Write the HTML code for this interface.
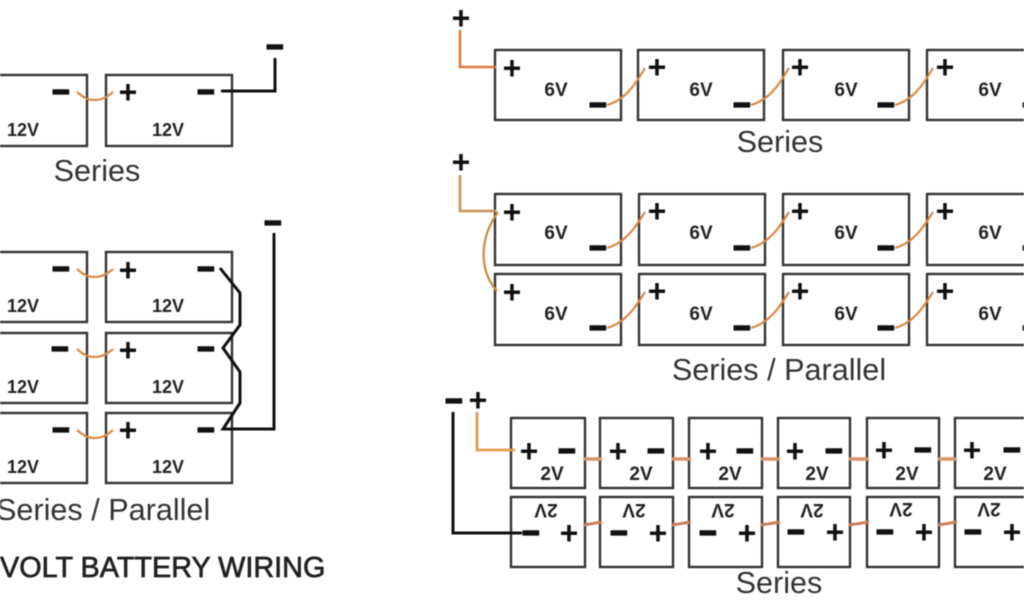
<!DOCTYPE html>
<html><head><meta charset="utf-8"><style>
html,body{margin:0;padding:0;background:#fff;width:1024px;height:600px;overflow:hidden}
svg{display:block;filter:blur(.5px)}
text{font-family:"Liberation Sans",Arial,sans-serif}
.p{font-size:32px;font-weight:bold;text-anchor:middle;fill:#111}
.m{font-size:29px;font-weight:bold;text-anchor:middle;fill:#111;stroke:#111;stroke-width:2.2;transform:translateY(-1.4px)}
.v{font-size:18px;font-weight:bold;text-anchor:middle;fill:#222}
.s{font-size:19px;font-weight:bold;text-anchor:middle;fill:#222}
.t{font-size:30.6px;fill:#333;text-anchor:middle}
.b{fill:none;stroke:#333;stroke-width:2.4}
.o{fill:none;stroke:#d98a45;stroke-width:2.2}
.k{fill:none;stroke:#111;stroke-width:3}
</style></head><body>
<svg width="1024" height="600" viewBox="0 0 1024 600" xmlns="http://www.w3.org/2000/svg">
<rect width="1024" height="600" fill="#fff"/>
<g class="b">
<rect x="-10" y="75" width="97" height="71"/><rect x="106" y="75" width="126" height="71"/>
<rect x="-10" y="252" width="97" height="70"/><rect x="106" y="252" width="126" height="70"/>
<rect x="-10" y="333" width="97" height="70"/><rect x="106" y="333" width="126" height="70"/>
<rect x="-10" y="413" width="97" height="70"/><rect x="106" y="413" width="126" height="70"/>
<rect x="495" y="50" width="126" height="70"/><rect x="638" y="50" width="126" height="70"/><rect x="783" y="50" width="126" height="70"/><rect x="927" y="50" width="126" height="70"/>
<rect x="495" y="194" width="126" height="71"/><rect x="639" y="194" width="126" height="71"/><rect x="783" y="194" width="126" height="71"/><rect x="927" y="194" width="126" height="71"/>
<rect x="495" y="274" width="126" height="71"/><rect x="639" y="274" width="126" height="71"/><rect x="783" y="274" width="126" height="71"/><rect x="927" y="274" width="126" height="71"/>
<rect x="511" y="418" width="74" height="70"/><rect x="600" y="418" width="73" height="70"/><rect x="689" y="418" width="73" height="70"/><rect x="778" y="418" width="72" height="70"/><rect x="867" y="418" width="72" height="70"/><rect x="955" y="418" width="74" height="70"/>
<rect x="511" y="497" width="74" height="70"/><rect x="600" y="497" width="73" height="70"/><rect x="689" y="497" width="73" height="70"/><rect x="778" y="497" width="72" height="70"/><rect x="867" y="497" width="72" height="70"/><rect x="955" y="497" width="74" height="70"/>
</g>
<g class="o">
<path d="M77 92C84 98 88 100 94 100C101 100 106 98 113 92"/>
<path d="M77 269C84 275 88 277 94 277C101 277 106 275 113 269"/>
<path d="M77 349C84 355 88 357 94 357C101 357 106 355 113 349"/>
<path d="M77 430C84 436 88 438 94 438C101 438 106 436 113 430"/>
<path d="M460 30V67H496" stroke-width="2.6" stroke="#dd7a3a"/>
<path d="M460 175V211H496" stroke-width="2.8" stroke="#c99a60"/>
<path d="M498 212C478 240 480 272 497 291" stroke="#c98a40"/>
<path d="M607 105C625 100 635 85 645 68"/><path d="M751 105C769 100 779 85 789 68"/><path d="M895 105C913 100 923 85 933 68"/>
<path d="M607 248C625 243 635 228 645 212"/><path d="M751 248C769 243 779 228 789 212"/><path d="M895 248C913 243 923 228 933 212"/>
<path d="M607 328C625 323 635 308 645 292"/><path d="M751 328C769 323 779 308 789 292"/><path d="M895 328C913 323 923 308 933 292"/>
<path d="M477 412V450H515" stroke-width="2.8" stroke="#e59a50"/>
<path d="M584 459H602M672 459H691M761 459H780M849 459H869M938 459H957M1027 459H1030" stroke-width="3.5" stroke="#d9956a"/>
<path d="M584 525L602 522M672 525L691 522M761 525L780 522M849 525L869 522M938 525L957 522" stroke-width="3" stroke="#c9805a"/>
</g>
<g class="k">
<path d="M221 91H275V58" />
<path d="M220 268L240 293V325L223 348L240 372V403L223 429H274V233"/>
<path d="M453 412V533H522"/>
</g>
<text class="m" x="61" y="103">−</text><text class="p" x="128" y="103">+</text><text class="m" x="206" y="103">−</text><text class="m" x="275" y="58">−</text>
<text class="v" x="23" y="136">12V</text><text class="v" x="168" y="136">12V</text>
<text class="t" x="97" y="181">Series</text>
<text class="m" x="61" y="280">−</text><text class="p" x="128" y="281">+</text><text class="m" x="206" y="280">−</text><text class="m" x="273" y="234">−</text>
<text class="v" x="23" y="312">12V</text><text class="v" x="168" y="312">12V</text>
<text class="m" x="60" y="360">−</text><text class="p" x="128" y="361">+</text><text class="m" x="206" y="360">−</text>
<text class="v" x="23" y="393">12V</text><text class="v" x="168" y="393">12V</text>
<text class="m" x="61" y="441">−</text><text class="p" x="128" y="441">+</text><text class="m" x="206" y="441">−</text>
<text class="v" x="23" y="473">12V</text><text class="v" x="168" y="473">12V</text>
<text class="t" x="-4" y="520" style="text-anchor:start">Series / Parallel</text>
<text x="0" y="577" style="font-size:28.8px;fill:#222;stroke:#222;stroke-width:.7">VOLT BATTERY WIRING</text>

<text class="p" x="461" y="29">+</text>
<text class="p" x="512" y="79">+</text><text class="p" x="657" y="78">+</text><text class="p" x="800" y="78">+</text><text class="p" x="945" y="78">+</text>
<text class="s" x="556" y="96">6V</text><text class="s" x="701" y="96">6V</text><text class="s" x="846" y="96">6V</text><text class="s" x="990" y="96">6V</text>
<text class="m" x="598" y="116">−</text><text class="m" x="742" y="116">−</text><text class="m" x="886" y="116">−</text><text class="m" x="1031" y="116">−</text>
<text class="t" x="780" y="152">Series</text>

<text class="p" x="461" y="173">+</text>
<text class="p" x="512" y="223">+</text><text class="p" x="657" y="222">+</text><text class="p" x="800" y="222">+</text><text class="p" x="945" y="222">+</text>
<text class="s" x="556" y="239">6V</text><text class="s" x="701" y="239">6V</text><text class="s" x="846" y="239">6V</text><text class="s" x="990" y="239">6V</text>
<text class="m" x="598" y="259">−</text><text class="m" x="742" y="259">−</text><text class="m" x="886" y="259">−</text><text class="m" x="1031" y="259">−</text>
<text class="p" x="512" y="303">+</text><text class="p" x="657" y="302">+</text><text class="p" x="800" y="302">+</text><text class="p" x="945" y="302">+</text>
<text class="s" x="556" y="320">6V</text><text class="s" x="701" y="320">6V</text><text class="s" x="846" y="320">6V</text><text class="s" x="990" y="320">6V</text>
<text class="m" x="598" y="339">−</text><text class="m" x="742" y="339">−</text><text class="m" x="886" y="339">−</text><text class="m" x="1031" y="339">−</text>
<text class="t" x="779" y="380">Series / Parallel</text>

<text class="m" x="454" y="412">−</text><text class="p" x="478" y="411">+</text>
<text class="p" x="529" y="462">+</text><text class="m" x="567" y="462">−</text><text class="p" x="618" y="462">+</text><text class="m" x="656" y="462">−</text><text class="p" x="708" y="462">+</text><text class="m" x="745" y="462">−</text><text class="p" x="795" y="462">+</text><text class="m" x="834" y="462">−</text><text class="p" x="884" y="461">+</text><text class="m" x="923" y="461">−</text><text class="p" x="972" y="461">+</text><text class="m" x="1012" y="461">−</text>
<text class="s" x="552" y="480">2V</text><text class="s" x="641" y="480">2V</text><text class="s" x="730" y="480">2V</text><text class="s" x="817" y="480">2V</text><text class="s" x="907" y="480">2V</text><text class="s" x="995" y="480">2V</text>
<text class="m" x="531" y="544">−</text><text class="p" x="569" y="544">+</text><text class="m" x="619" y="544">−</text><text class="p" x="658" y="544">+</text><text class="m" x="708" y="544">−</text><text class="p" x="747" y="544">+</text><text class="m" x="796" y="543">−</text><text class="p" x="835" y="543">+</text><text class="m" x="885" y="543">−</text><text class="p" x="924" y="543">+</text><text class="m" x="973" y="543">−</text><text class="p" x="1012" y="543">+</text>
<text class="s" transform="translate(546,510) rotate(180)" y="6">2V</text>
<text class="s" transform="translate(634,510) rotate(180)" y="6">2V</text>
<text class="s" transform="translate(723,510) rotate(180)" y="6">2V</text>
<text class="s" transform="translate(812,510) rotate(180)" y="6">2V</text>
<text class="s" transform="translate(901,509) rotate(180)" y="6">2V</text>
<text class="s" transform="translate(989,509) rotate(180)" y="6">2V</text>
<text class="t" x="779" y="593">Series</text>
</svg>
</body></html>
